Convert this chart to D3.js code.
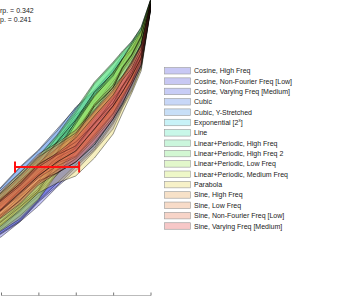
<!DOCTYPE html>
<html>
<head>
<meta charset="utf-8">
<script src="https://cdn.jsdelivr.net/npm/d3@7"></script>
<style>
  body { margin: 0; background: #fff; }
  svg { display: block; font-family: "Liberation Sans", Arial, sans-serif; }
</style>
</head>
<body>
<div id="chart"></div>
<script>
// chart size
var svgWidth = 359;
var svgHeight = 296;

// x positions where each band is sampled
var xValues = [-0.5, 0, 0.5, 1, 1.5, 2, 2.5, 3, 3.25, 3.5, 3.75, 4];
var xTicks = [0, 1, 2, 3, 4];

var families = [
  "Cosine, High Freq",
  "Cosine, Non-Fourier Freq [Low]",
  "Cosine, Varying Freq [Medium]",
  "Cubic",
  "Cubic, Y-Stretched",
  "Exponential [2^x]",
  "Line",
  "Linear+Periodic, High Freq",
  "Linear+Periodic, High Freq 2",
  "Linear+Periodic, Low Freq",
  "Linear+Periodic, Medium Freq",
  "Parabola",
  "Sine, High Freq",
  "Sine, Low Freq",
  "Sine, Non-Fourier Freq [Low]",
  "Sine, Varying Freq [Medium]"
];

var familyColors = [
  "#4848da", "#4a4ad8", "#4a5ae0", "#4a7ae6", "#4a94e6", "#48d4e6",
  "#48e6b4", "#54e08c", "#6ae46a", "#a0e454", "#c8e44a", "#e6d04a",
  "#e69a4a", "#e6884a", "#e6704a", "#e64a4a"
];

// upper edge of each band
var bandHigh = [
  [70, 84, 97, 117, 136, 159, 179, 203, 215, 231, 248, 294],
  [72, 83, 100, 116, 140, 161, 184, 205, 220, 232, 252, 295],
  [74, 86, 103, 119, 142, 163, 187, 207, 221, 235, 251, 296],
  [95, 113, 133, 150, 171, 192, 209, 230, 242, 253, 267, 299],
  [94, 112, 132, 149, 169, 193, 210, 231, 245, 255, 268, 299],
  [87, 105, 121, 141, 158, 182, 203, 226, 237, 252, 265, 298],
  [89, 107, 124, 143, 164, 189, 217, 237, 248, 259, 272, 300],
  [88, 103, 123, 139, 163, 187, 216, 236, 247, 257, 272, 300],
  [91, 108, 127, 144, 165, 191, 218, 238, 249, 258, 273, 300],
  [75, 90, 104, 124, 148, 179, 205, 228, 241, 257, 270, 299],
  [74, 86, 103, 119, 147, 176, 204, 224, 241, 255, 269, 299],
  [79, 95, 110, 129, 139, 151, 170, 194, 208, 224, 242, 293],
  [85, 102, 118, 137, 152, 165, 188, 208, 223, 235, 254, 295],
  [91, 110, 127, 146, 157, 170, 190, 213, 224, 239, 255, 296],
  [89, 107, 124, 143, 155, 167, 189, 210, 224, 237, 254, 296],
  [83, 100, 116, 135, 147, 162, 184, 205, 220, 232, 251, 295]
];

// inner split line of each band
var bandMid = [
  [64, 72, 89, 104, 126, 142, 166, 186, 205, 219, 241, 292],
  [63, 76, 88, 108, 125, 148, 166, 192, 205, 223, 243, 293],
  [67, 75, 92, 108, 131, 148, 171, 191, 209, 221, 243, 293],
  [90, 105, 125, 141, 162, 181, 199, 218, 233, 244, 261, 297],
  [87, 106, 121, 141, 159, 185, 199, 222, 235, 248, 261, 297],
  [82, 96, 115, 130, 151, 169, 194, 213, 230, 242, 260, 296],
  [84, 98, 117, 133, 157, 177, 207, 225, 239, 250, 267, 298],
  [80, 97, 112, 132, 152, 178, 203, 226, 237, 250, 264, 298],
  [85, 100, 119, 135, 158, 180, 208, 227, 241, 251, 268, 298],
  [69, 79, 95, 111, 140, 166, 196, 215, 233, 246, 264, 297],
  [65, 78, 93, 109, 137, 164, 194, 212, 232, 245, 263, 297],
  [72, 85, 99, 119, 127, 138, 155, 181, 196, 216, 235, 291],
  [79, 91, 110, 126, 142, 152, 176, 194, 213, 225, 246, 293],
  [83, 101, 116, 136, 146, 158, 176, 201, 213, 230, 247, 294],
  [81, 99, 114, 133, 145, 154, 177, 197, 214, 227, 247, 294],
  [77, 90, 107, 124, 138, 149, 171, 194, 208, 224, 242, 293]
];

// lower edge of each band
var bandLow = [
  [55, 63, 78, 94, 113, 129, 149, 171, 192, 209, 232, 290],
  [57, 66, 78, 98, 114, 133, 150, 176, 193, 213, 232, 291],
  [58, 67, 79, 99, 117, 135, 152, 178, 195, 210, 233, 290],
  [84, 99, 115, 135, 151, 172, 186, 209, 222, 238, 254, 296],
  [81, 97, 112, 132, 151, 174, 190, 211, 228, 240, 256, 296],
  [76, 89, 106, 122, 142, 159, 182, 202, 221, 235, 254, 295],
  [77, 91, 108, 126, 147, 168, 195, 216, 229, 244, 260, 297],
  [74, 90, 104, 124, 143, 166, 192, 215, 229, 242, 259, 297],
  [78, 94, 109, 128, 148, 170, 195, 219, 231, 245, 261, 297],
  [61, 70, 84, 101, 129, 156, 184, 205, 223, 238, 256, 296],
  [58, 69, 81, 100, 126, 154, 182, 203, 222, 237, 256, 296],
  [64, 74, 90, 107, 117, 124, 142, 166, 187, 207, 229, 290],
  [71, 83, 100, 117, 130, 141, 161, 183, 201, 218, 237, 292],
  [77, 91, 108, 125, 137, 144, 165, 187, 204, 219, 241, 292],
  [75, 89, 106, 122, 134, 143, 163, 186, 202, 219, 239, 292],
  [69, 82, 96, 115, 127, 138, 157, 181, 198, 215, 235, 291]
];

// horizontal error bar
var errorY = 133;
var errorXLow = 0.375;
var errorXHigh = 2.09;

// score text (left part is cut off in the reference)
var scoreLines = ["rp. = 0.342", "p. = 0.241"];

var svg = d3.select("#chart")
  .append("svg")
  .attr("width", svgWidth)
  .attr("height", svgHeight);

var xLinearScale = d3.scaleLinear().domain([0, 4]).range([1, 150.5]);
var yLinearScale = d3.scaleLinear().domain([0, 300]).range([300, 0]);

var area = d3.area()
  .x((d, i) => xLinearScale(xValues[i]))
  .y0(d => yLinearScale(d[1]))
  .y1(d => yLinearScale(d[0]));

var plotGroup = svg.append("g");

families.forEach(function(name, k) {
  var upperHalf = bandHigh[k].map((v, i) => [v, bandMid[k][i]]);
  var lowerHalf = bandMid[k].map((v, i) => [v, bandLow[k][i]]);
  [upperHalf, lowerHalf].forEach(function(pts) {
    plotGroup.append("path")
      .attr("d", area(pts))
      .attr("fill", familyColors[k])
      .attr("fill-opacity", 0.35)
      .attr("stroke", "#000")
      .attr("stroke-opacity", 0.8)
      .attr("stroke-width", 0.5);
  });
});

// error bar
var errGroup = svg.append("g")
  .attr("stroke", "#ff1010")
  .attr("stroke-width", 2);

errGroup.append("line")
  .attr("x1", xLinearScale(errorXLow))
  .attr("x2", xLinearScale(errorXHigh))
  .attr("y1", yLinearScale(errorY))
  .attr("y2", yLinearScale(errorY));

[errorXLow, errorXHigh].forEach(function(v) {
  errGroup.append("line")
    .attr("x1", xLinearScale(v))
    .attr("x2", xLinearScale(v))
    .attr("y1", yLinearScale(errorY) - 5.5)
    .attr("y2", yLinearScale(errorY) + 5.5);
});

// x axis (labels sit below the visible area)
var bottomAxis = d3.axisBottom(xLinearScale)
  .tickValues(xTicks)
  .tickSizeInner(-3)
  .tickSizeOuter(0)
  .tickFormat("");

var xAxis = svg.append("g")
  .attr("transform", "translate(0, 295.5)")
  .call(bottomAxis);
xAxis.selectAll("path, line").attr("stroke", "#777");

// score text
svg.selectAll("text.score")
  .data(scoreLines)
  .enter()
  .append("text")
  .classed("score", true)
  .attr("x", 0)
  .attr("y", (d, i) => 12.5 + i * 9)
  .attr("font-size", "7px")
  .attr("fill", "#222")
  .text(d => d);

// legend
var legend = svg.append("g")
  .attr("transform", "translate(164, 67)");

families.forEach(function(name, k) {
  var row = legend.append("g")
    .attr("transform", `translate(0, ${k * 10.35})`);
  row.append("rect")
    .attr("x", 0.5)
    .attr("y", 0.5)
    .attr("width", 26)
    .attr("height", 6.5)
    .attr("fill", familyColors[k])
    .attr("fill-opacity", 0.3)
    .attr("stroke", "#999")
    .attr("stroke-width", 0.6);
  var label = row.append("text")
    .attr("x", 30)
    .attr("y", 6.3)
    .attr("font-size", "7px")
    .attr("fill", "#222");
  if (name === "Exponential [2^x]") {
    label.append("tspan").text("Exponential [2");
    label.append("tspan").attr("font-size", "4.5px").attr("dy", -3).text("x");
    label.append("tspan").attr("dy", 3).text("]");
  } else {
    label.text(name);
  }
});
</script>
</body>
</html>
